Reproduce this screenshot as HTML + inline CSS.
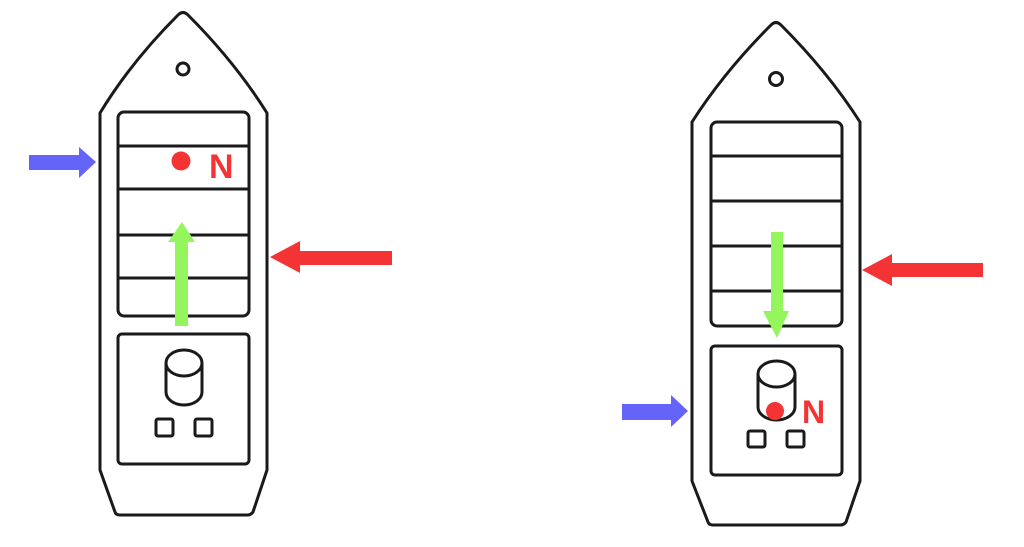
<!DOCTYPE html>
<html><head><style>html,body{margin:0;padding:0;background:#fff;}svg{display:block;}</style></head>
<body>
<svg width="1024" height="547" viewBox="0 0 1024 547" xmlns="http://www.w3.org/2000/svg">
<g fill="none" stroke="#1a1a1a" stroke-width="3" stroke-linejoin="round">
  <!-- left boat -->
  <path d="M178,15 Q183,10 188,15 Q235,62 267,113 L267,470 L253,512 Q251,515 247,515 L120,515 Q116,515 115,512 L100,470 L100,113 Q131,62 178,15 Z"/>
  <circle cx="183" cy="69" r="6"/>
  <rect x="118" y="112" width="131" height="204" rx="6"/>
  <line x1="118" y1="146" x2="249" y2="146"/>
  <line x1="118" y1="189" x2="249" y2="189"/>
  <line x1="118" y1="235" x2="249" y2="235"/>
  <line x1="118" y1="278" x2="249" y2="278"/>
  <rect x="118" y="334" width="131" height="130" rx="4"/>
  <path d="M166,363 L166,392 A18,13 0 0 0 202,392 L202,363"/>
  <ellipse cx="184" cy="363" rx="18" ry="13"/>
  <rect x="156" y="419" width="17" height="17" rx="2"/>
  <rect x="195" y="419" width="17" height="17" rx="2"/>
  <!-- right boat -->
  <path d="M771,25 Q776,20 781,25 Q828,72 860,122 L860,481 L846,522 Q844,525 840,525 L713,525 Q709,525 708,522 L692,481 L692,122 Q724,72 771,25 Z"/>
  <circle cx="776" cy="79" r="6.5"/>
  <rect x="711" y="122" width="131" height="204" rx="6"/>
  <line x1="711" y1="156" x2="842" y2="156"/>
  <line x1="711" y1="201" x2="842" y2="201"/>
  <line x1="711" y1="246" x2="842" y2="246"/>
  <line x1="711" y1="291" x2="842" y2="291"/>
  <rect x="711" y="346" width="131" height="129" rx="4"/>
  <path d="M758,374 L758,407 A18.5,13 0 0 0 795,407 L795,374"/>
  <ellipse cx="776.5" cy="374" rx="18.5" ry="13"/>
  <rect x="748" y="431" width="17" height="16" rx="2"/>
  <rect x="787" y="431" width="17" height="16" rx="2"/>
</g>
<!-- left arrows -->
<polygon points="29,155 79,155 79,147 96,162 79,178 79,170 29,170" fill="#6464f8"/>
<polygon points="392,251 300,251 300,241 270,257 300,273 300,265 392,265" fill="#f43434"/>
<polygon points="175,326 175,242 168,242 182,222 195,242 188,242 188,326" fill="#94f65c"/>
<circle cx="181" cy="161" r="9.5" fill="#f43434"/>
<text x="209" y="178" font-family="Liberation Sans, sans-serif" font-weight="bold" font-size="34" fill="#f43434">N</text>
<!-- right arrows -->
<polygon points="622,404 671,404 671,395 688,411 671,427 671,420 622,420" fill="#6464f8"/>
<polygon points="983,263 892,263 892,254 862,270 892,286 892,277 983,277" fill="#f43434"/>
<polygon points="771,232 783,232 783,311 789,311 777,338 763,311 771,311" fill="#94f65c"/>
<circle cx="775" cy="411" r="9" fill="#f43434"/>
<text x="802" y="423" font-family="Liberation Sans, sans-serif" font-weight="bold" font-size="32" fill="#f43434">N</text>
</svg>
</body></html>
